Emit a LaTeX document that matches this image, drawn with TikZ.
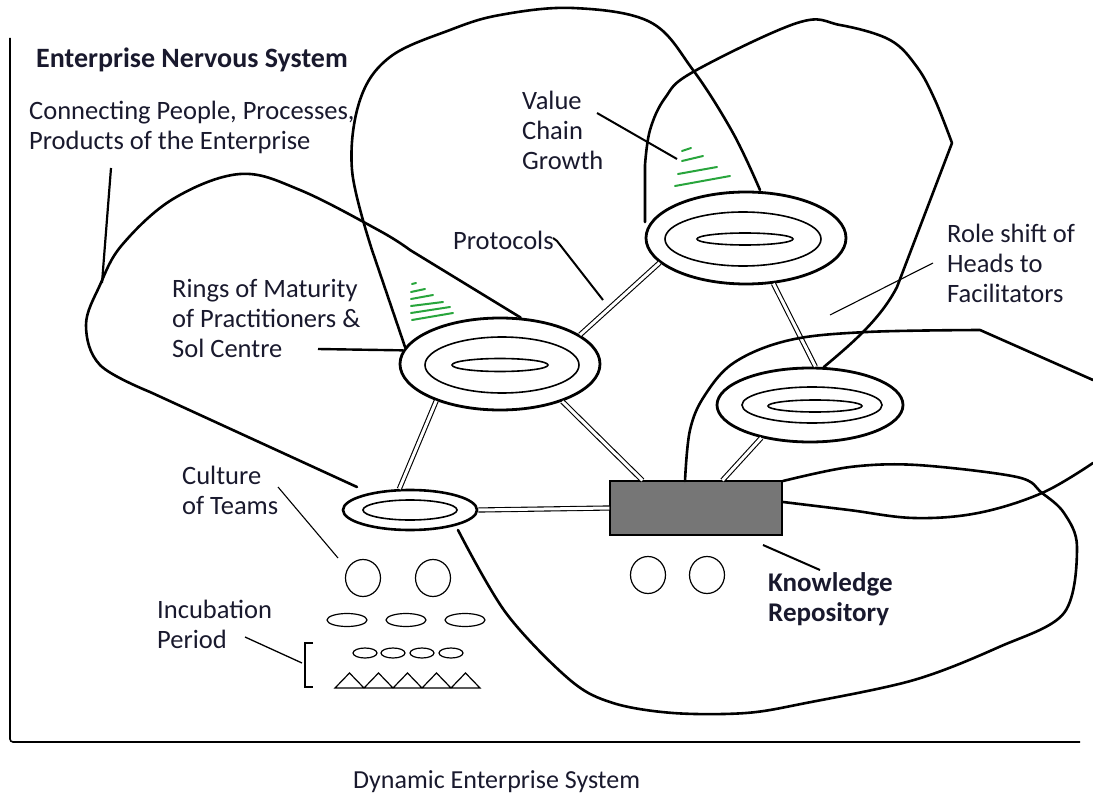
\documentclass[tikz,border=0pt]{standalone}
\usepackage{fontspec}
\setmainfont{Carlito}
\usetikzlibrary{shapes.geometric}
\definecolor{txt}{RGB}{25,25,45}
\definecolor{kgray}{RGB}{118,118,118}
\definecolor{hatchgreen}{RGB}{40,165,60}
\begin{document}
\begin{tikzpicture}[x=1pt,y=-1pt,
  lbl/.style={font=\fontsize{26.5}{30}\selectfont, align=left, inner sep=0pt, text=txt, anchor=west},
  blbl/.style={lbl, font=\fontsize{27}{30}\selectfont\bfseries},
  outerring/.style={ellipse, draw, line width=2.8pt, inner sep=0pt},
  innerring/.style={ellipse, draw, line width=1.6pt, inner sep=0pt},
  dbl/.style={double, double distance=3pt, line width=1.1pt},
  bigcurve/.style={line width=2.6pt, line join=round, line cap=round},
  leader/.style={line width=2pt},
  thinleader/.style={line width=1.1pt},
  hatch/.style={draw=hatchgreen, line width=2pt, line cap=round},
  smallshape/.style={ellipse, draw, line width=1.2pt, inner sep=0pt}
]
\useasboundingbox (0,0) rectangle (1093,805);

% axes
\draw[line width=1.6pt, rounded corners=3pt] (10,38) -- (10,742) -- (1080,742);

% ring nodes
\node[outerring, minimum width=200pt, minimum height=92pt] (rings) at (500,364) {};
\node[innerring, minimum width=154pt, minimum height=56pt] (ringsB) at (502,365) {};
\node[innerring, minimum width=96pt, minimum height=13pt] (ringsC) at (500,365) {};

\node[outerring, minimum width=200pt, minimum height=92pt] (value) at (746,238) {};
\node[innerring, minimum width=156pt, minimum height=54pt] (valueB) at (743,239) {};
\node[innerring, minimum width=96pt, minimum height=12pt] (valueC) at (745,239) {};

\node[outerring, minimum width=186pt, minimum height=74pt] (role) at (810,405) {};
\node[innerring, minimum width=140pt, minimum height=36pt] (roleB) at (812,405) {};
\node[innerring, minimum width=94pt, minimum height=12pt] (roleC) at (815,406) {};

\node[outerring, line width=2.6pt, minimum width=134pt, minimum height=40pt] (culture) at (410,510) {};
\node[innerring, minimum width=94pt, minimum height=20pt] (cultureB) at (410,510) {};

\node[draw, fill=kgray, line width=1.2pt, minimum width=172pt, minimum height=54pt, inner sep=0pt] (kr) at (696,508) {};

% double connectors
\draw[dbl] (rings.20) -- (value.196);
\draw[dbl] (rings.210) -- (culture.117);
\draw[dbl] (rings.-31) -- ([xshift=33pt]kr.north west);
\draw[dbl] (value.-59) -- (role.82);
\draw[dbl] (role.214) -- ([xshift=113pt]kr.north west);
\draw[dbl] (culture.east) -- (kr.west);

% big curves
\draw[bigcurve] (rings.66) -- (410,250) plot[smooth, tension=0.6] coordinates {(410,250) (380,231) (300,190) (240,174) (173,199) (122,245) (100,285) (86,325) (100,365) (150,392)} -- (357,487);
\draw[bigcurve] (rings.170) -- (372,250) plot[smooth, tension=0.6] coordinates {(372,250) (352,170) (360,100) (390,57) (450,30) (500,15) (573,8) (650,22) (693,70) (733,133) (760,190)};
\draw[bigcurve] (645,222) -- (645,165) plot[smooth, tension=0.6] coordinates {(645,165) (650,130) (665,98) (693,72) (797,23) (840,25) (890,40) (917,67) (935,100) (952,143)} -- (897,287) .. controls (880,320) and (850,345) .. (role.70);
\draw[bigcurve] ([xshift=75pt]kr.north west) plot[smooth, tension=0.6] coordinates {(685,481) (690,430) (705,395) (735,362) (790,340) (867,332) (980,330)} -- (1093,380);
\draw[bigcurve] ([yshift=-6pt]kr.east) plot[smooth, tension=0.6] coordinates {(783,502) (849,510) (914,518) (978,513) (1042,493) (1093,463)};
\draw[bigcurve] plot[smooth, tension=0.55] coordinates {(458,530) (506,613) (570,680) (613,703) (673,713) (746,713) (806,703) (914,680) (999,647) (1064,613) (1077,547) (1064,513) (1042,493) (1017,477) (917,465) (850,467) (783,481)};

% green hatches
\draw[hatch] (412,284) -- (416,283);
\draw[hatch] (411,292) -- (425,289);
\draw[hatch] (411,299) -- (433,295);
\draw[hatch] (411,306) -- (443,302);
\draw[hatch] (411,313) -- (450,307);
\draw[hatch] (412,320) -- (453,313);
\draw[hatch] (682,151) -- (691,148);
\draw[hatch] (682,161) -- (703,156);
\draw[hatch] (678,174) -- (717,167);
\draw[hatch] (675,186) -- (730,176);

% small shapes
\node[smallshape, minimum width=35pt, minimum height=37pt] (cc1) at (363,578) {};
\node[smallshape, minimum width=35pt, minimum height=37pt] (cc2) at (433,578) {};
\node[smallshape, minimum width=40pt, minimum height=13pt] (e1) at (347,620) {};
\node[smallshape, minimum width=40pt, minimum height=13pt] (e2) at (406,620) {};
\node[smallshape, minimum width=40pt, minimum height=13pt] (e3) at (465,620) {};
\node[smallshape, minimum width=24pt, minimum height=10pt] (s1) at (365,653) {};
\node[smallshape, minimum width=24pt, minimum height=10pt] (s2) at (393,653) {};
\node[smallshape, minimum width=24pt, minimum height=10pt] (s3) at (422,653) {};
\node[smallshape, minimum width=24pt, minimum height=10pt] (s4) at (451,653) {};
\draw[line width=1.2pt, line join=miter] (335,688) -- (349.5,673) -- (364,688) -- (378.5,673) -- (393,688) -- (407.5,673) -- (422,688) -- (436.5,673) -- (451,688) -- (465.5,673) -- (480,688) -- cycle;
\draw[line width=1.4pt] (313,643) -- (305,643) -- (305,687) -- (313,687);
\node[smallshape, minimum width=35pt, minimum height=37pt] (kc1) at (648,575) {};
\node[smallshape, minimum width=35pt, minimum height=37pt] (kc2) at (707,575) {};

% labels
\node[blbl, font=\fontsize{28}{30}\selectfont\bfseries] (ens) at (36,60) {Enterprise Nervous System};
\node[lbl] (conn) at (29,127) {Connecting People, Processes,\\Products of the Enterprise};
\node[lbl] (vcg) at (522,130) {Value\\Chain\\Growth};
\node[lbl] (prot) at (453,240) {Protocols};
\node[lbl] (rom) at (172,318) {Rings of Maturity\\of Practitioners \&\\Sol Centre};
\node[lbl] (rsh) at (947,263) {Role shift of\\Heads to\\Facilitators};
\node[lbl] (cot) at (182,490) {Culture\\of Teams};
\node[lbl] (inc) at (157,624) {Incubation\\Period};
\node[blbl] (krl) at (768,599) {Knowledge\\Repository};
\node[lbl, font=\fontsize{26}{30}\selectfont] (cap) at (353,782) {Dynamic Enterprise System};

% leader lines
\draw[line width=2.2pt] (111,168) -- (102,283);
\draw[leader] (597,113) -- (677,159);
\draw[leader] (553,238) -- (557,241) -- (603,300);
\draw[line width=2.4pt] (318,349) -- (rings.172);
\draw[thinleader] (933,263) -- (830,315);
\draw[thinleader] (278,487) -- (338,558);
\draw[line width=1.3pt] (245,637) -- (302,663);
\draw[leader] (763,545) -- (820,570);
\end{tikzpicture}
\end{document}
